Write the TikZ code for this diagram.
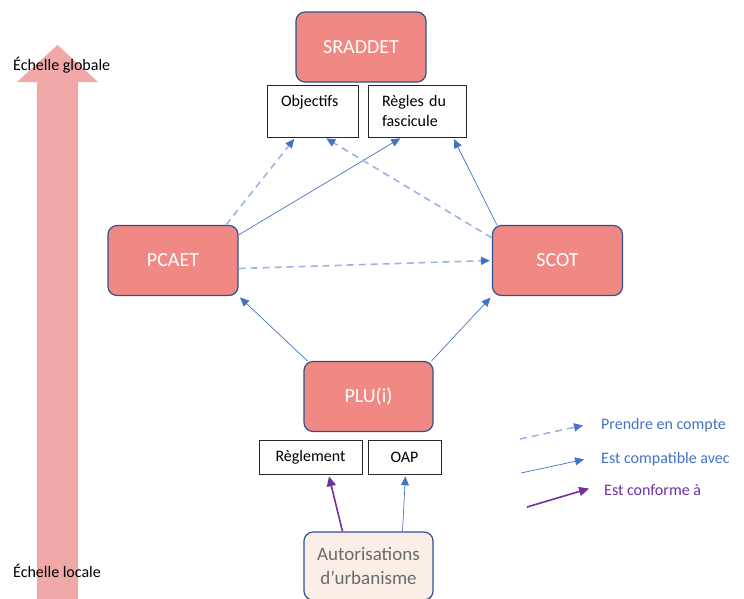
\documentclass[tikz,border=0pt]{standalone}
\usepackage{fontspec}
\setmainfont{Carlito}
\usetikzlibrary{arrows.meta}
\definecolor{saumon}{RGB}{240,137,132}
\definecolor{bordbleu}{RGB}{47,82,143}
\definecolor{fleche}{RGB}{68,114,196}
\definecolor{flechepale}{RGB}{155,180,226}
\definecolor{violet}{RGB}{112,48,160}
\definecolor{rose}{RGB}{240,168,168}
\definecolor{creme}{RGB}{251,238,230}
\tikzset{
  doc/.style={draw=bordbleu, line width=1.2pt, fill=saumon, rounded corners=9pt,
    minimum width=130pt, minimum height=70pt, text=white,
    font=\fontsize{20}{24}\selectfont},
  piece/.style={draw=black!85, fill=white, line width=0.6pt, inner xsep=14pt,
    font=\fontsize{16}{20}\selectfont},
  prise/.style={flechepale, line width=1.6pt, dash pattern=on 7pt off 5pt,
    -{Triangle[length=9pt,width=8pt,color=fleche]}, shorten >=2pt},
  compat/.style={fleche, line width=0.7pt, -{Triangle[length=9pt,width=8pt]}, shorten >=2pt},
  conforme/.style={violet, line width=1.6pt, -{Triangle[length=10pt,width=9pt]}, shorten >=2pt}
}
\begin{document}
\begin{tikzpicture}[x=1pt,y=-1pt]
\useasboundingbox (0,0) rectangle (744,598);
% scale arrow
\fill[rose] (37,600) -- (37,82) -- (17,82) -- (57.5,45) -- (98,82) -- (78,82) -- (78,600) -- cycle;
\node[anchor=west, inner sep=0pt, font=\fontsize{16}{20}\selectfont] (global) at (13,65) {Échelle globale};
\node[anchor=west, inner sep=0pt, font=\fontsize{16}{20}\selectfont] (locale) at (13,571) {Échelle locale};
% documents
\node[doc] (sraddet) at (361,47) {SRADDET};
\node[piece, text width=63pt, minimum height=52pt, align=left] (obj) at (312.5,111) {Objectifs\\\mbox{}};
\node[piece, text width=70pt, minimum height=52pt, align=left] (regles) at (417,111) {Règles du\\fascicule};
\node[doc] (pcaet) at (173,260.5) {PCAET};
\node[doc] (scot) at (557.5,260.5) {SCOT};
\node[doc, minimum width=129pt] (plu) at (368.5,396.5) {PLU(i)};
\node[piece, inner xsep=3pt, minimum width=103pt, minimum height=34pt] (reglement) at (310.5,457) {Règlement};
\node[piece, inner xsep=3pt, minimum width=73pt, minimum height=34pt] (oap) at (404.5,457) {OAP};
\node[draw=bordbleu, line width=1.2pt, fill=creme, rounded corners=9pt, minimum width=129pt,
  minimum height=68pt, text=black!58, align=center, font=\fontsize{19}{24}\selectfont]
  (auto) at (368.5,566) {Autorisations\\d’urbanisme};
% links
\draw[prise] ([xshift=53pt]pcaet.north) -- ([xshift=-17pt]obj.south);
\draw[compat] ([yshift=-10pt]pcaet.north east) -- ([xshift=-15pt]regles.south);
\draw[prise] ([yshift=-13pt]scot.north west) -- ([xshift=12pt]obj.south);
\draw[compat] ([xshift=5pt]scot.north west) -- ([xshift=36pt]regles.south);
\draw[prise] ([yshift=-8pt]pcaet.east) -- (scot.west);
\draw[compat] ([xshift=4pt]plu.north west) -- (pcaet.south east);
\draw[compat] ([xshift=-2pt]plu.north east) -- (scot.south west);
\draw[conforme] ([xshift=-26pt]auto.north) -- ([xshift=18pt]reglement.south);
\draw[compat] ([xshift=34pt]auto.north) -- ([xshift=1pt]oap.south);
% legend
\coordinate (pa) at (520,439); \coordinate (pb) at (585,425);
\coordinate (ca) at (521,473); \coordinate (cb) at (586,459);
\coordinate (va) at (527,507); \coordinate (vb) at (591,488);
\draw[prise] (pa) -- (pb);
\draw[compat] (ca) -- (cb);
\draw[conforme] (va) -- (vb);
\node[anchor=west, inner sep=0pt, text=fleche, font=\fontsize{16}{20}\selectfont] (lprise) at (601,425) {Prendre en compte};
\node[anchor=west, inner sep=0pt, text=fleche, font=\fontsize{16}{20}\selectfont] (lcompat) at (601,459) {Est compatible avec};
\node[anchor=west, inner sep=0pt, text=violet, font=\fontsize{16}{20}\selectfont] (lconf) at (604,490) {Est conforme à};
\end{tikzpicture}
\end{document}
